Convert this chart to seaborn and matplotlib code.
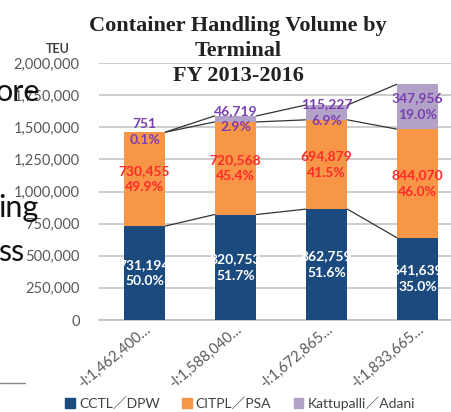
import matplotlib
matplotlib.use('Agg')
import matplotlib.pyplot as plt
import seaborn as sns
import pandas as pd
import numpy as np

# --- Data ---
years = ['2013', '2014', '2015', '2016']
tick_labels = ['-l:1,462,400…', '-l:1,588,040…', '-l:1,672,865…', '-l:1,833,665…']
terminals = ['CCTL／DPW', 'CITPL／PSA', 'Kattupalli／Adani']
cctl = [731194, 820753, 862759, 641639]
citpl = [730455, 720568, 694879, 844070]
kattupalli = [751, 46719, 115227, 347956]
cctl_pct = ['50.0%', '51.7%', '51.6%', '35.0%']
citpl_pct = ['49.9%', '45.4%', '41.5%', '46.0%']
kattupalli_pct = ['0.1%', '2.9%', '6.9%', '19.0%']

colors = ['#1b4a7e', '#f79646', '#b3a2c7']
label_colors = ['white', '#ff2a2a', '#7a3fb0']

sns.set_theme(style='white')
plt.rcParams['font.family'] = ['Lato', 'Noto Sans CJK JP', 'DejaVu Sans']

df = pd.DataFrame({'year': years, 'CCTL': cctl, 'CITPL': citpl, 'Kattupalli': kattupalli})
series = [df['CCTL'].values, df['CITPL'].values, df['Kattupalli'].values]
pcts = [cctl_pct, citpl_pct, kattupalli_pct]

fig = plt.figure(figsize=(4.51, 4.12), dpi=100)
W, H = 451, 412
ax = fig.add_axes([99 / W, 1 - 320 / H, 364 / W, 257 / H])

# stacked bars: draw cumulative totals, lower series on top
bar_w = 0.46
bottom = np.zeros(len(years))
for i, vals in enumerate(series):
    sns.barplot(x=df['year'], y=vals + bottom, color=colors[i], width=bar_w,
                ax=ax, saturation=1, edgecolor='none')
    bottom = bottom + vals
for k, cont in enumerate(ax.containers):
    for p in cont.patches:
        p.set_zorder(5 - k)

# series lines between bar tops
x = np.arange(len(years))
cum = np.zeros(len(years))
for i, vals in enumerate(series):
    cum = cum + vals
    for j in range(len(years) - 1):
        ax.plot([x[j] + bar_w / 2, x[j + 1] - bar_w / 2], [cum[j], cum[j + 1]],
                color='#333333', lw=0.9, zorder=6)

# data labels
cum = np.zeros(len(years))
for i, vals in enumerate(series):
    for j in range(len(years)):
        mid = cum[j] + vals[j] / 2
        ax.text(x[j], mid, f'{vals[j]:,}\n{pcts[i][j]}', ha='center', va='center',
                color=label_colors[i], fontsize=10, fontweight='bold',
                linespacing=1.45, zorder=8, clip_on=False)
    cum = cum + vals

ax.set_ylim(0, 2000000)
ax.set_xlim(-0.5, 3.5)
ax.set_yticks(np.arange(0, 2000001, 250000))
ax.set_yticklabels([f'{v:,}' for v in range(0, 2000001, 250000)], color='#595959', fontsize=10.5)
ax.set_xticks(x)
ax.set_xticklabels(tick_labels, rotation=40, ha='right', rotation_mode='anchor',
                   color='#595959', fontsize=10.5)
ax.tick_params(axis='y', length=0, pad=14)
ax.tick_params(axis='x', length=0, pad=2)
ax.grid(axis='y', color='#c4c4c4', lw=1.2, zorder=0)
ax.set_axisbelow(True)
for s in ['top', 'right', 'left']:
    ax.spines[s].set_visible(False)
ax.spines['bottom'].set_color('#bfbfbf')
ax.spines['bottom'].set_linewidth(1.2)
ax.set_xlabel('')
ax.set_ylabel('')

# titles
title_kw = dict(ha='center', va='center', fontsize=16, fontweight='bold',
                family=['Liberation Serif'], color='#222222', zorder=10)
fig.text(238 / W, 1 - 26 / H, 'Container Handling Volume by', **title_kw)
fig.text(238 / W, 1 - 51 / H, 'Terminal', **title_kw)
fig.text(238 / W, 1 - 76 / H, 'FY 2013-2016', **title_kw)
fig.text(58 / W, 1 - 49 / H, 'TEU', ha='center', va='center', fontsize=9,
         fontweight='bold', color='#404040')

# legend
handles = [plt.Rectangle((0, 0), 1, 1, color=c) for c in colors]
fig.legend(handles, terminals, loc='center', bbox_to_anchor=(240 / W, 1 - 403 / H),
           ncol=3, frameon=False, fontsize=10, handlelength=0.7, handleheight=0.7,
           handletextpad=0.3, columnspacing=1.6, labelcolor='#404040')

# slide text behind the chart
fig.text(-4 / W, 1 - 92 / H, 'ore', ha='left', va='center', fontsize=22, color='#111111')
fig.text(-2 / W, 1 - 208 / H, 'ing', ha='left', va='center', fontsize=22, color='#111111')
fig.text(-2 / W, 1 - 252 / H, 'ss', ha='left', va='center', fontsize=22, color='#111111')
fig.add_artist(plt.Line2D([0, 25 / W], [1 - 383 / H, 1 - 383 / H], color='#888888', lw=1))

fig.savefig('out.png', dpi=100)
